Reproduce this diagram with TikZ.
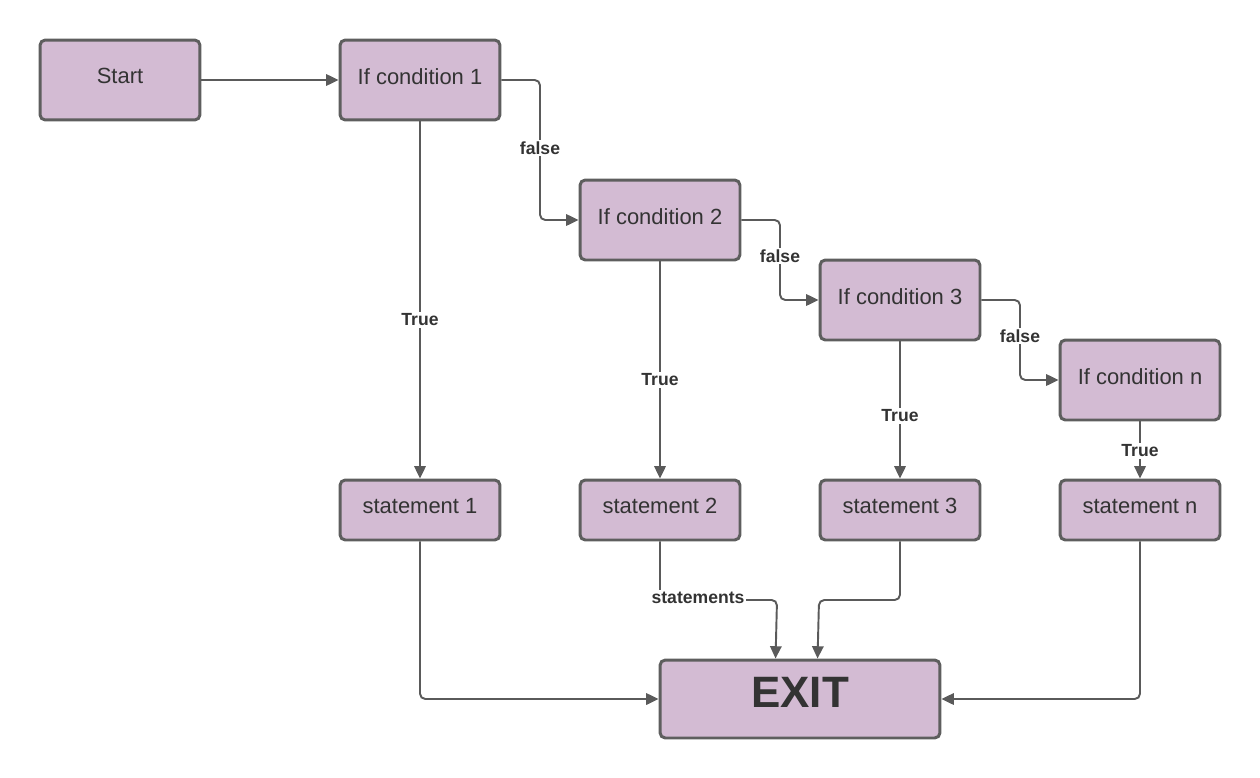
\documentclass[tikz,border=0pt]{standalone}
\usepackage{fontspec}
\setmainfont{Liberation Sans}
\usetikzlibrary{arrows.meta,positioning,calc}
\definecolor{boxfill}{HTML}{D3BBD3}
\definecolor{boxline}{HTML}{5E5E5E}
\definecolor{wire}{HTML}{5A5A5A}
\definecolor{ink}{HTML}{333333}
\tikzset{lbl/.style={fill=white, inner sep=1pt, text=ink, font=\fontsize{10}{12}\selectfont\bfseries}}
\tikzstyle{blk}=[draw=boxline, fill=boxfill, line width=1.7pt, rounded corners=3pt, text=ink, minimum width=3.2cm, minimum height=1.6cm, text depth=4.4pt, font=\fontsize{12.5}{15}\selectfont]
\tikzstyle{stm}=[blk, minimum height=1.2cm]

\begin{document}
\begin{tikzpicture}[x=0.02cm, y=-0.02cm, >={Triangle[length=7pt,width=6.5pt]}]
\useasboundingbox (0,0) rectangle (1260,777);
\node[blk] (Start) at (120,80) {Start};
\node[blk] (C1) at (420,80) {If condition 1};
\node[blk] (C2) at (660,220) {If condition 2};
\node[blk] (C3) at (900,300) {If condition 3};
\node[blk] (Cn) at (1140,380) {If condition n};
\node[stm] (S1) at (420,510) {statement 1};
\node[stm] (S2) at (660,510) {statement 2};
\node[stm] (S3) at (900,510) {statement 3};
\node[stm] (Sn) at (1140,510) {statement n};
\node[blk, minimum width=5.6cm, minimum height=1.56cm, text depth=8pt, font=\fontsize{25}{30}\selectfont\bfseries] (Exit) at (800,699) {EXIT};
\begin{scope}[draw=wire, line width=1.1pt, rounded corners=3pt]
\draw[->] (Start) -- (C1);
\draw[->] (C1.east) -| (540,150) |- (C2.west);
\draw[->] (C2.east) -| (780,260) |- (C3.west);
\draw[->] (C3.east) -| (1020,340) |- (Cn.west);
\draw[->] (C1) -- (S1);
\draw[->] (C2) -- (S2);
\draw[->] (C3) -- (S3);
\draw[->] (Cn) -- (Sn);
\draw[->] (S1.south) |- (Exit.west);
\draw[->] (Sn.south) |- (Exit.east);
\draw[->] (S2.south) |- (777,600) -- ($(Exit.north west)+(117,0)$);
\draw[->] (S3.south) |- (819,600) -- ($(Exit.north west)+(159,0)$);
\end{scope}
\node[lbl] at (540,148) {false};
\node[lbl] at (780,256) {false};
\node[lbl] at (1020,336) {false};
\node[lbl] at (420,320) {True};
\node[lbl] at (660,380) {True};
\node[lbl] at (900,416) {True};
\node[lbl] at (1140,451) {True};
\node[lbl] at (698,598) {statements};
\end{tikzpicture}
\end{document}
